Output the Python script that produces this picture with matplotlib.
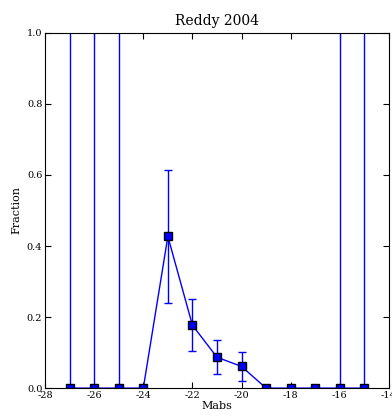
import matplotlib
matplotlib.use("Agg")
import matplotlib.pyplot as plt
import numpy as np

# magnitude bins and fractions
mabs = [-27, -26, -25, -24, -23, -22, -21, -20, -19, -18, -17, -16, -15]
frac = [0.0, 0.0, 0.0, 0.0, 0.427, 0.177, 0.087, 0.061, 0.0, 0.0, 0.0, 0.0, 0.0]
err_lo = [1.5, 1.5, 1.5, 0.0, 0.187, 0.073, 0.048, 0.042, 0.0, 0.0, 0.0, 1.5, 1.5]
err_hi = [1.5, 1.5, 1.5, 0.0, 0.188, 0.073, 0.048, 0.042, 0.0, 0.0, 0.0, 1.5, 1.5]

plt.rcParams['font.family'] = 'DejaVu Serif'
plt.rcParams['xtick.direction'] = 'in'
plt.rcParams['ytick.direction'] = 'in'
plt.rcParams['xtick.top'] = True
plt.rcParams['ytick.right'] = True

fig = plt.figure(figsize=(3.92, 4.16), dpi=100)
ax = fig.add_axes([0.115, 0.067, 0.877, 0.854])

ax.errorbar(mabs, frac, yerr=[err_lo, err_hi], color='blue', ecolor='blue',
            marker='s', markersize=6, markerfacecolor='blue', markeredgecolor='black',
            markeredgewidth=1, linewidth=1, elinewidth=1, capsize=3, clip_on=True)

ax.set_xlim(-28, -14)
ax.set_ylim(0, 1)
ax.set_xticks(np.arange(-28, -13, 2))
ax.set_yticks(np.arange(0, 1.01, 0.2))
ax.set_xticklabels([str(t) for t in range(-28, -13, 2)])
ax.set_yticklabels(['%.1f' % t for t in np.arange(0, 1.01, 0.2)])
ax.tick_params(labelsize=7, length=4, pad=2)
ax.set_title('Reddy 2004', fontsize=10)
ax.set_xlabel('Mabs', fontsize=8, labelpad=1)
ax.set_ylabel('Fraction', fontsize=8)

fig.savefig('out.png', dpi=100)
